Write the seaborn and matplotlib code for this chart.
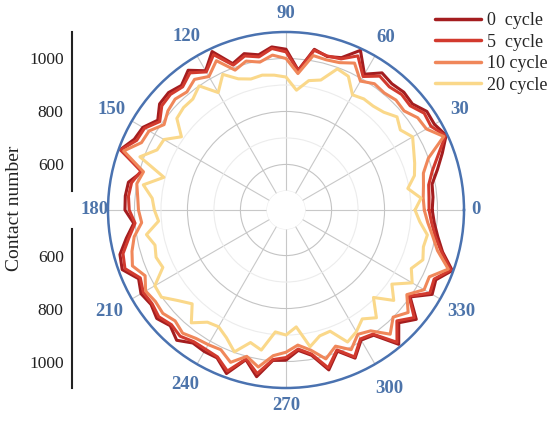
import numpy as np
import pandas as pd
import matplotlib
matplotlib.use("Agg")
import matplotlib.pyplot as plt
import seaborn as sns

sns.set_style("white")
plt.rcParams['font.family'] = ['Liberation Serif', 'DejaVu Serif']

# angle in degrees, every 5 deg
angles = list(range(0, 360, 5))
cycle_0 = [980, 985, 988, 1020, 1056, 1095, 1075, 1077, 1051, 1057, 1050, 1060,
           1020, 1093, 1040, 1028, 1044, 958, 1035, 1046, 1023, 1039, 1016, 1088,
           1035, 1072, 1042, 1055, 1051, 1019, 1052, 1060, 1094, 990, 1032, 1037,
           1036, 1005, 1040, 1077, 1086, 1042, 1060, 1050, 1065, 1046, 1070, 1041,
           1045, 1044, 1085, 1013, 1067, 998, 995, 960, 985, 1053, 995, 1045,
           995, 1005, 1090, 1030, 1070, 1000, 1065, 1052, 1096, 1040, 1010, 990]
cycle_5 = [968, 970, 975, 1000, 1040, 1092, 1060, 1065, 1040, 1045, 1035, 1045,
           1010, 1070, 1035, 1030, 1040, 955, 1025, 1040, 1015, 1030, 1010, 1075,
           1030, 1060, 1035, 1045, 1040, 1010, 1045, 1050, 1092, 995, 1020, 1025,
           1020, 1000, 1030, 1065, 1075, 1035, 1050, 1045, 1055, 1040, 1050, 1035,
           1035, 1040, 1075, 1010, 1055, 995, 985, 955, 980, 1045, 990, 1040,
           990, 1000, 1080, 1020, 1060, 995, 1055, 1045, 1090, 1035, 1000, 980]
cycle_10 = [950, 948, 955, 965, 1000, 1085, 1040, 1035, 1010, 1015, 1005, 1010,
            990, 1040, 1020, 1015, 1020, 945, 1000, 1015, 995, 1010, 990, 1050,
            1010, 1030, 1010, 1020, 1010, 990, 1025, 1030, 1080, 985, 1000, 990,
            985, 975, 1010, 1030, 1045, 1015, 1040, 1030, 1035, 1020, 1035, 1020,
            1015, 1010, 1040, 1000, 1030, 980, 965, 940, 965, 1010, 975, 1010,
            970, 985, 1040, 1000, 1030, 985, 1030, 1025, 1080, 1020, 990, 965]
cycle_20 = [915, 940, 895, 930, 945, 960, 980, 955, 975, 950, 940, 940,
            930, 985, 995, 936, 924, 882, 930, 939, 945, 940, 955, 993,
            940, 1000, 975, 975, 966, 910, 960, 965, 1015, 905, 975, 935,
            925, 911, 963, 940, 950, 941, 1000, 1002, 960, 929, 984, 945,
            937, 960, 998, 946, 965, 890, 900, 871, 952, 920, 915, 978,
            959, 930, 959, 895, 959, 916, 978, 950, 978, 965, 970, 935]

labels = ['0  cycle', '5  cycle', '10 cycle', '20 cycle']
colors = ['#a41d1f', '#d23a2e', '#f0875a', '#fad88a']
theta_ticks = list(range(0, 360, 30))
theta_labels = ['0', '30', '60', '90', '120', '150', '180', '210', '240', '270', '300', '330']
# distance of each angle label from centre, in pixels
label_dist = [190, 201, 199, 196, 200, 201, 191, 204, 202, 195, 206, 203]

frames = []
for name, vals in zip(labels, [cycle_0, cycle_5, cycle_10, cycle_20]):
    th = np.deg2rad(angles + [360])
    frames.append(pd.DataFrame({'theta': th, 'value': vals + [vals[0]], 'cycle': name}))
df = pd.concat(frames, ignore_index=True)

fig = plt.figure(figsize=(5.5, 4.21), dpi=100)
W, H = 550, 421
cx, cy, R = 286, 211, 178
ax = fig.add_axes([(cx - R) / W, (cy - R) / H, 2 * R / W, 2 * R / H], projection='polar')

r_min, r_max, r_org = 500, 1100, 428
ax.set_rorigin(r_org)
ax.set_rlim(r_min, r_max)

sns.lineplot(data=df, x='theta', y='value', hue='cycle', palette=colors,
             sort=False, estimator=None, linewidth=2.2, ax=ax, legend=False)

ax.set_xlabel('')
ax.set_ylabel('')
ax.set_thetagrids(theta_ticks, [''] * len(theta_ticks))
for deg, lab, d in zip(theta_ticks, theta_labels, label_dist):
    rv = r_org + d / R * (r_max - r_org)
    ax.text(np.deg2rad(deg), rv, lab, ha='center', va='center', fontsize=13.5,
            fontweight='bold', color='#4d74aa', clip_on=False)
ax.set_yticks(range(500, 1101, 100))
ax.set_yticklabels([])
ax.xaxis.grid(True, color='#c8c8c8', linewidth=0.8)
ax.yaxis.grid(True, linewidth=0.8)
for i, gl in enumerate(ax.yaxis.get_gridlines()):
    gl.set_color('#c4c4c4' if i % 2 == 1 else '#ececec')
ax.spines['polar'].set_color('#4a72b0')
ax.spines['polar'].set_linewidth(1.8)
ax.spines['inner'].set_color('none')
ax.spines['inner'].set_linewidth(0)

# legend
handles = [plt.Line2D([], [], color=c, linewidth=2.5) for c in colors]
fig.legend(handles, labels, loc='upper right', bbox_to_anchor=(1.025, 1.01),
           frameon=False, fontsize=13, handlelength=2.6, handletextpad=0.3,
           labelspacing=0.25)

# left linear axes (mirrored halves)
frac = (r_min - r_org) / (r_max - r_org)
r_in = R * frac
axx = 72
for upper in (True, False):
    if upper:
        b = (cy + r_in) / H
    else:
        b = (cy - R) / H
    a2 = fig.add_axes([axx / W, b, 0.001, (R - r_in) / H])
    a2.set_ylim((r_min, r_max) if upper else (r_max, r_min))
    a2.set_yticks([600, 800, 1000])
    a2.set_xticks([])
    for s in ['top', 'right', 'bottom']:
        a2.spines[s].set_visible(False)
    a2.spines['left'].set_linewidth(1.5)
    a2.spines['left'].set_color('#222222')
    a2.tick_params(axis='y', direction='out', length=4, width=1.2,
                   labelsize=12.5, colors='#222222', pad=2)
    a2.patch.set_alpha(0)

fig.text(15 / W, 1 - 208 / H, 'Contact number', rotation=90, ha='center',
         va='center', fontsize=14, color='#222222')

fig.savefig('out.png', dpi=100)
